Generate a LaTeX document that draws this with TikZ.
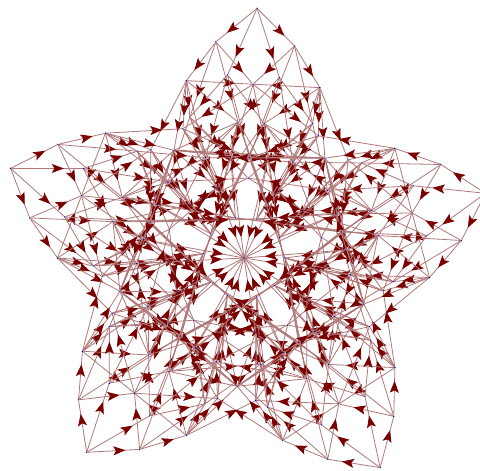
\documentclass[tikz,border=0pt]{standalone}
\usetikzlibrary{arrows.meta,decorations.markings,backgrounds}
\definecolor{linkred}{HTML}{B07878}
\definecolor{tipred}{HTML}{7A0000}
\begin{document}
\begin{tikzpicture}[x=1pt,y=1pt,
 vtx/.style={circle,fill=blue!70!black,inner sep=0pt,minimum size=1.6pt},
 link/.style={draw=linkred,line width=.8pt,postaction={decorate},
  decoration={markings,mark=at position #1 with {\arrow{Stealth[length=12pt,width=9pt,inset=2.5pt,color=tipred]}}}},
 link/.default=.74]
\useasboundingbox (0,0) rectangle (480,471);
\begin{scope}[shift={(244,213)}]
\node[vtx] (hub) at (0,0) {};
\foreach \s in {0,...,4}{
 \pgfmathsetmacro\ax{87+72*\s}
 \pgfmathtruncatemacro\N{mod(\s+1,5)}
 \foreach \v/\rad in {a/250,e/174,l/100.5,m/80}
  \node[vtx] (\v\s) at ({\ax}:\rad) {};
 \foreach \v/\rad/\off in {b/218/10.4,c/186.5/21,d/184/8.1,f/151/24,g/143/28.3,
   h/136/5.5,j/107.5/24,k/102/10.5,n/75/24,o/41/15}{
  \node[vtx] (\v L\s) at ({\ax+\off}:\rad) {};
  \node[vtx] (\v R\s) at ({\ax-\off}:\rad) {};
 }
 \node[vtx,alias=iR\N] (iL\s) at ({\ax+36}:128.5) {};
}
\begin{scope}[on background layer]
\foreach \s in {0,...,4}
 \foreach \A/\B/\d in {L/R/1,R/L/4}{
  \pgfmathtruncatemacro\N{mod(\s+\d,5)}
  \foreach \u/\w in {a\s/b\A\s,a\s/d\A\s,
    b\A\s/c\A\s,b\A\s/e\s,b\A\s/f\A\s,b\A\s/h\A\s,
    c\A\s/e\s,c\A\s/f\A\s,c\A\s/g\A\s,c\A\s/h\A\s,c\A\s/j\A\s,c\A\s/i\A\s,c\A\s/g\B\N,
    d\A\s/f\A\s,d\A\s/j\A\s,d\A\s/h\B\s,d\A\s/l\s,
    e\s/g\A\s,e\s/k\A\s,
    h\A\s/i\A\s,h\A\s/j\A\s,h\A\s/k\A\s,h\A\s/n\A\s,h\A\s/n\B\s,h\A\s/j\B\N,
    h\A\s/o\B\N,h\B\s/o\B\N,h\B\s/o\A\N,
    f\A\s/n\A\s,f\A\s/k\A\s,f\A\s/m\s,f\A\s/j\B\N,f\A\s/o\A\s,
    g\A\s/n\A\s,g\A\s/j\A\s,g\A\s/l\s,g\A\s/o\A\s,
    i\A\s/l\s,i\A\s/k\B\s,i\A\s/j\B\s,i\A\s/i\B\s,i\A\s/n\A\s,
    j\A\s/o\A\s,j\A\s/m\N,
    k\A\s/o\A\s,k\A\s/o\B\N,
    l\s/o\B\N,l\s/o\A\N,
    m\s/n\B\N,n\A\s/n\B\N}
   \draw[link] (\u) -- (\w);
  \foreach \u in {j\A\s,k\A\s}
   \draw[link=.8] (\u) -- (hub);
 }
\end{scope}
\end{scope}
\end{tikzpicture}
\end{document}
